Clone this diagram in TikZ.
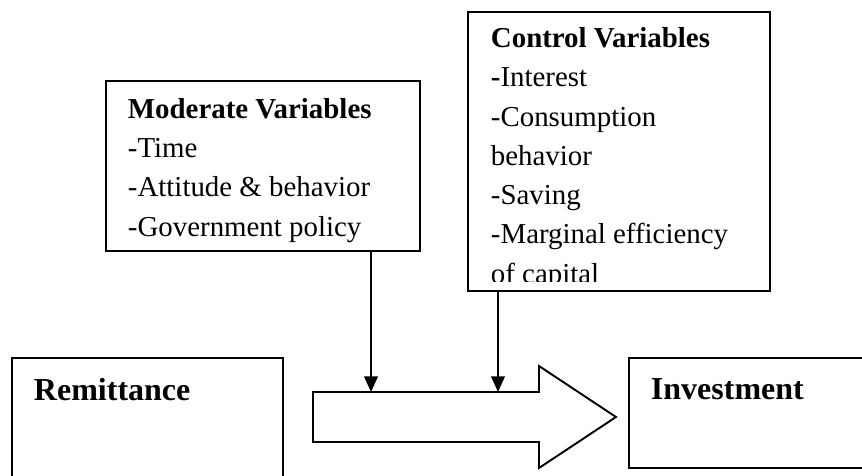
\documentclass[tikz,border=0pt]{standalone}
\usepackage{fontspec}
\setmainfont{Liberation Serif}
\usetikzlibrary{arrows.meta}

\begin{document}
\begin{tikzpicture}[x=0.0146cm, y=-0.0146cm, line width=0.8pt,
    font=\fontsize{12pt}{16.3pt}\selectfont,
    box/.style={draw, rectangle, inner sep=0pt},
    txt/.style={anchor=base west, inner sep=0pt, align=left},
    big/.style={font=\fontsize{13.3pt}{16pt}\selectfont\bfseries},
    feed/.style={-{Triangle[length=0.23cm, width=0.2cm]}}]
    \useasboundingbox (0,0) rectangle (862,476);

    % boxes
    \node [box, minimum width=4.584cm, minimum height=2.482cm] (mod) at (263,166) {};
    \node [box, minimum width=4.409cm, minimum height=4.073cm] (ctrl) at (619,151.5) {};
    \node [box, minimum width=3.957cm, minimum height=1.927cm] (rem) at (147.5,424) {};
    \node [box, minimum width=3.519cm, minimum height=1.606cm] (inv) at (749.5,413) {};

    % texts (base = last line)
    \node [txt] (modtext) at (127,236) {\textbf{Moderate Variables}\\-Time\\-Attitude \& behavior\\-Government policy};
    \begin{scope}
        \clip (468,12) rectangle (770,281);
        \node [txt] (ctrltext) at (490,283) {\textbf{Control Variables}\\\textbf{-}Interest\\-Consumption\\behavior\\-Saving\\-Marginal efficiency\\of capital};
    \end{scope}
    \node [txt, big] (remtext) at (33,400) {Remittance};
    \node [txt, big] (invtext) at (650,399) {Investment};

    % block arrow
    \coordinate (body) at (313,392);
    \draw (body) -- (539,392) -- (539,366) -- (616,417) -- (539,468) -- (539,442) -- (313,442) -- cycle;

    \coordinate (m1) at ([xshift=108*0.0146cm]mod.south);
    \coordinate (c1) at ([xshift=-121*0.0146cm]ctrl.south);
    \draw [feed] (m1) -- (m1 |- body);
    \draw [feed] (c1) -- (c1 |- body);
\end{tikzpicture}
\end{document}
